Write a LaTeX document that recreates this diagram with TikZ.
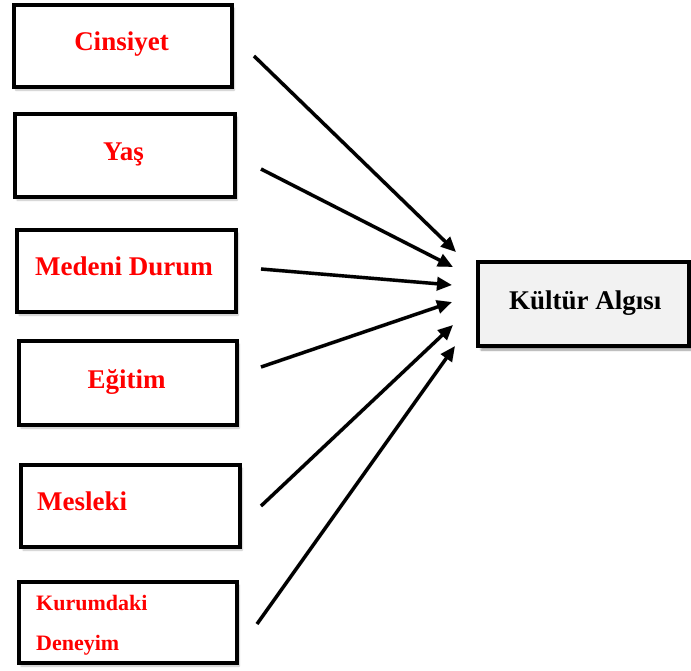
\documentclass[tikz,border=0pt]{standalone}
\usepackage{fontspec}
\setmainfont{Liberation Serif}
\usetikzlibrary{arrows.meta,shadows.blur}
\begin{document}
\begin{tikzpicture}[x=1pt,y=-1pt,
  factorbox/.style={draw=black, line width=4pt, fill=white, inner sep=0pt,
    blur shadow={shadow xshift=2pt, shadow yshift=-3pt, shadow blur steps=6, shadow opacity=25}},
  targetbox/.style={draw=black, line width=4pt, fill=black!5, inner sep=0pt,
    blur shadow={shadow xshift=3pt, shadow yshift=-4pt, shadow blur steps=8, shadow opacity=40}},
  factortext/.style={text=red, font=\fontsize{27}{32}\selectfont\bfseries, inner sep=0pt},
  smalltext/.style={text=red, font=\fontsize{22}{26}\selectfont\bfseries, inner sep=0pt},
  targettext/.style={text=black, font=\fontsize{27}{32}\selectfont\bfseries, inner sep=0pt},
  link/.style={line width=3.4pt, -{Triangle[length=15pt,width=13pt]}},
  linkshadow/.style={line width=4pt, black!15, -{Triangle[length=15pt,width=14pt]}}
]
\useasboundingbox (0,0) rectangle (691,670);

% factor boxes
\node[factorbox, minimum width=218pt, minimum height=82pt] (b1) at (123,46) {};
\node[factorbox, minimum width=220pt, minimum height=83pt] (b2) at (125,155.5) {};
\node[factorbox, minimum width=219pt, minimum height=82pt] (b3) at (126.5,271) {};
\node[factorbox, minimum width=218pt, minimum height=84pt] (b4) at (128,383) {};
\node[factorbox, minimum width=219pt, minimum height=82pt] (b5) at (130.5,506) {};
\node[factorbox, minimum width=218pt, minimum height=81pt] (b6) at (128,622.5) {};

% target box
\node[targetbox, minimum width=211pt, minimum height=84pt] (k) at (583.5,304) {};

% labels
\node[factortext, anchor=base] (t1) at (121.5,50.5) {Cinsiyet};
\node[factortext, anchor=base] (t2) at (123.5,160.5) {Yaş};
\node[factortext, anchor=base] (t3) at (124,275) {Medeni Durum};
\node[factortext, anchor=base] (t4) at (126.5,388) {Eğitim};
\node[factortext, anchor=base west] (t5) at (37,510.5) {Mesleki};
\node[smalltext, anchor=base west] (t6a) at (36,610.5) {Kurumdaki};
\node[smalltext, anchor=base west] (t6b) at (36,650) {Deneyim};
\node[targettext, anchor=base west] (tk) at (509,309.3) {Kültür Algısı};

% arrow ends
\coordinate (s1) at (254,56);  \coordinate (e1) at (456,252);
\coordinate (s2) at (261,169); \coordinate (e2) at (453,267);
\coordinate (s3) at (261,269); \coordinate (e3) at (452,285);
\coordinate (s4) at (261,367); \coordinate (e4) at (452,302);
\coordinate (s5) at (261,506); \coordinate (e5) at (453,325);
\coordinate (s6) at (257,624); \coordinate (e6) at (455,346);

% arrow shadows
\begin{scope}[shift={(3,4)}]
\foreach \i in {1,...,6} \draw[linkshadow] (s\i) -- (e\i);
\end{scope}

% arrows
\foreach \i in {1,...,6} \draw[link] (s\i) -- (e\i);
\end{tikzpicture}
\end{document}
